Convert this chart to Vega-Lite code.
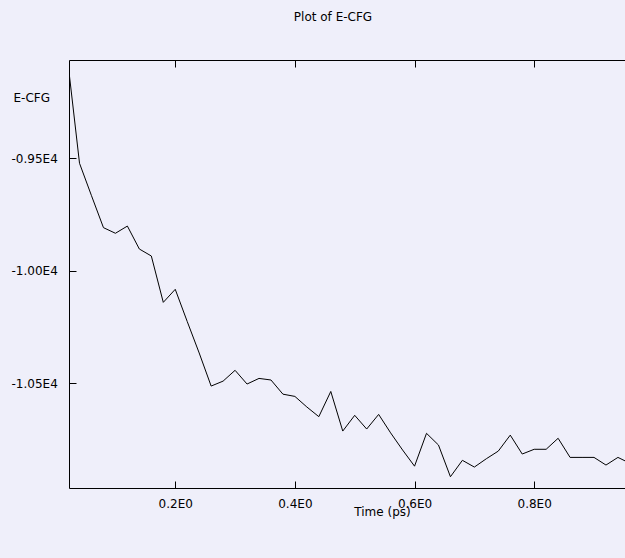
{
  "$schema": "https://vega.github.io/schema/vega-lite/v6.json",
  "width": 556,
  "height": 428,
  "autosize": {"type": "none"},
  "padding": {"left": 69, "top": 60, "right": 0, "bottom": 70},
  "background": "#EFEFFA",
  "config": {"view": {"stroke": null}, "font": "DejaVu Sans"},
  "title": {
    "text": "Plot of E-CFG",
    "fontSize": 12,
    "fontWeight": "normal",
    "color": "black",
    "anchor": "middle",
    "dx": -14,
    "baseline": "alphabetic",
    "offset": 27
  },
  "data": {
    "values": [
      {"t": 0.0225, "e": -9118},
      {"t": 0.04, "e": -9522},
      {"t": 0.06, "e": -9666},
      {"t": 0.08, "e": -9808},
      {"t": 0.10, "e": -9833},
      {"t": 0.12, "e": -9801},
      {"t": 0.14, "e": -9903},
      {"t": 0.16, "e": -9934},
      {"t": 0.18, "e": -10140},
      {"t": 0.20, "e": -10082},
      {"t": 0.22, "e": -10225},
      {"t": 0.24, "e": -10365},
      {"t": 0.26, "e": -10512},
      {"t": 0.28, "e": -10490},
      {"t": 0.30, "e": -10442},
      {"t": 0.32, "e": -10503},
      {"t": 0.34, "e": -10478},
      {"t": 0.36, "e": -10485},
      {"t": 0.38, "e": -10548},
      {"t": 0.40, "e": -10558},
      {"t": 0.42, "e": -10605},
      {"t": 0.44, "e": -10648},
      {"t": 0.46, "e": -10536},
      {"t": 0.48, "e": -10712},
      {"t": 0.50, "e": -10642},
      {"t": 0.52, "e": -10703},
      {"t": 0.54, "e": -10638},
      {"t": 0.56, "e": -10720},
      {"t": 0.58, "e": -10796},
      {"t": 0.60, "e": -10868},
      {"t": 0.62, "e": -10722},
      {"t": 0.64, "e": -10774},
      {"t": 0.66, "e": -10915},
      {"t": 0.68, "e": -10842},
      {"t": 0.70, "e": -10872},
      {"t": 0.72, "e": -10835},
      {"t": 0.74, "e": -10801},
      {"t": 0.76, "e": -10730},
      {"t": 0.78, "e": -10814},
      {"t": 0.80, "e": -10793},
      {"t": 0.82, "e": -10793},
      {"t": 0.84, "e": -10744},
      {"t": 0.86, "e": -10829},
      {"t": 0.88, "e": -10829},
      {"t": 0.90, "e": -10829},
      {"t": 0.92, "e": -10863},
      {"t": 0.94, "e": -10829},
      {"t": 0.96, "e": -10855}
    ]
  },
  "layer": [
    {
      "mark": {"type": "line", "color": "black", "strokeWidth": 1, "clip": true},
      "encoding": {
        "x": {
          "field": "t",
          "type": "quantitative",
          "scale": {"domain": [0.0224, 0.9518], "nice": false, "zero": false},
          "axis": {
            "orient": "bottom",
            "values": [0.2, 0.4, 0.6, 0.8],
            "labelExpr": "format(datum.value, '.1f') + 'E0'",
            "grid": false,
            "domainColor": "black",
            "tickColor": "black",
            "tickSize": -7,
            "labelPadding": 22,
            "labelBaseline": "middle",
            "labelFontSize": 12,
            "labelColor": "black",
            "labelFlush": false,
            "title": "Time (ps)",
            "titleFontSize": 12,
            "titleFontWeight": "normal",
            "titleColor": "black",
            "titleX": 313,
            "titleY": 27,
            "titleAlign": "center",
            "titleBaseline": "alphabetic"
          }
        },
        "y": {
          "field": "e",
          "type": "quantitative",
          "scale": {"domain": [-10965, -9063], "nice": false, "zero": false},
          "axis": {
            "values": [-9500, -10000, -10500],
            "labelExpr": "'-' + format(-datum.value / 10000, '.2f') + 'E4'",
            "grid": false,
            "domainColor": "black",
            "tickColor": "black",
            "tickSize": -7,
            "labelPadding": 65,
            "labelAlign": "left",
            "labelBaseline": "middle",
            "labelFontSize": 12,
            "labelColor": "black",
            "labelFlush": false,
            "title": "E-CFG",
            "titleFontSize": 12,
            "titleFontWeight": "normal",
            "titleColor": "black",
            "titleAngle": 0,
            "titleX": -56,
            "titleY": 37,
            "titleAlign": "left",
            "titleBaseline": "middle"
          }
        }
      }
    },
    {
      "mark": {"type": "line", "opacity": 0, "clip": true},
      "encoding": {
        "x": {
          "field": "t",
          "type": "quantitative",
          "axis": {
            "orient": "top",
            "values": [0.2, 0.4, 0.6, 0.8],
            "labels": false,
            "title": null,
            "grid": false,
            "domainColor": "black",
            "tickColor": "black",
            "tickSize": -7
          }
        },
        "y": {"field": "e", "type": "quantitative"}
      }
    }
  ],
  "resolve": {"axis": {"x": "independent"}}
}
